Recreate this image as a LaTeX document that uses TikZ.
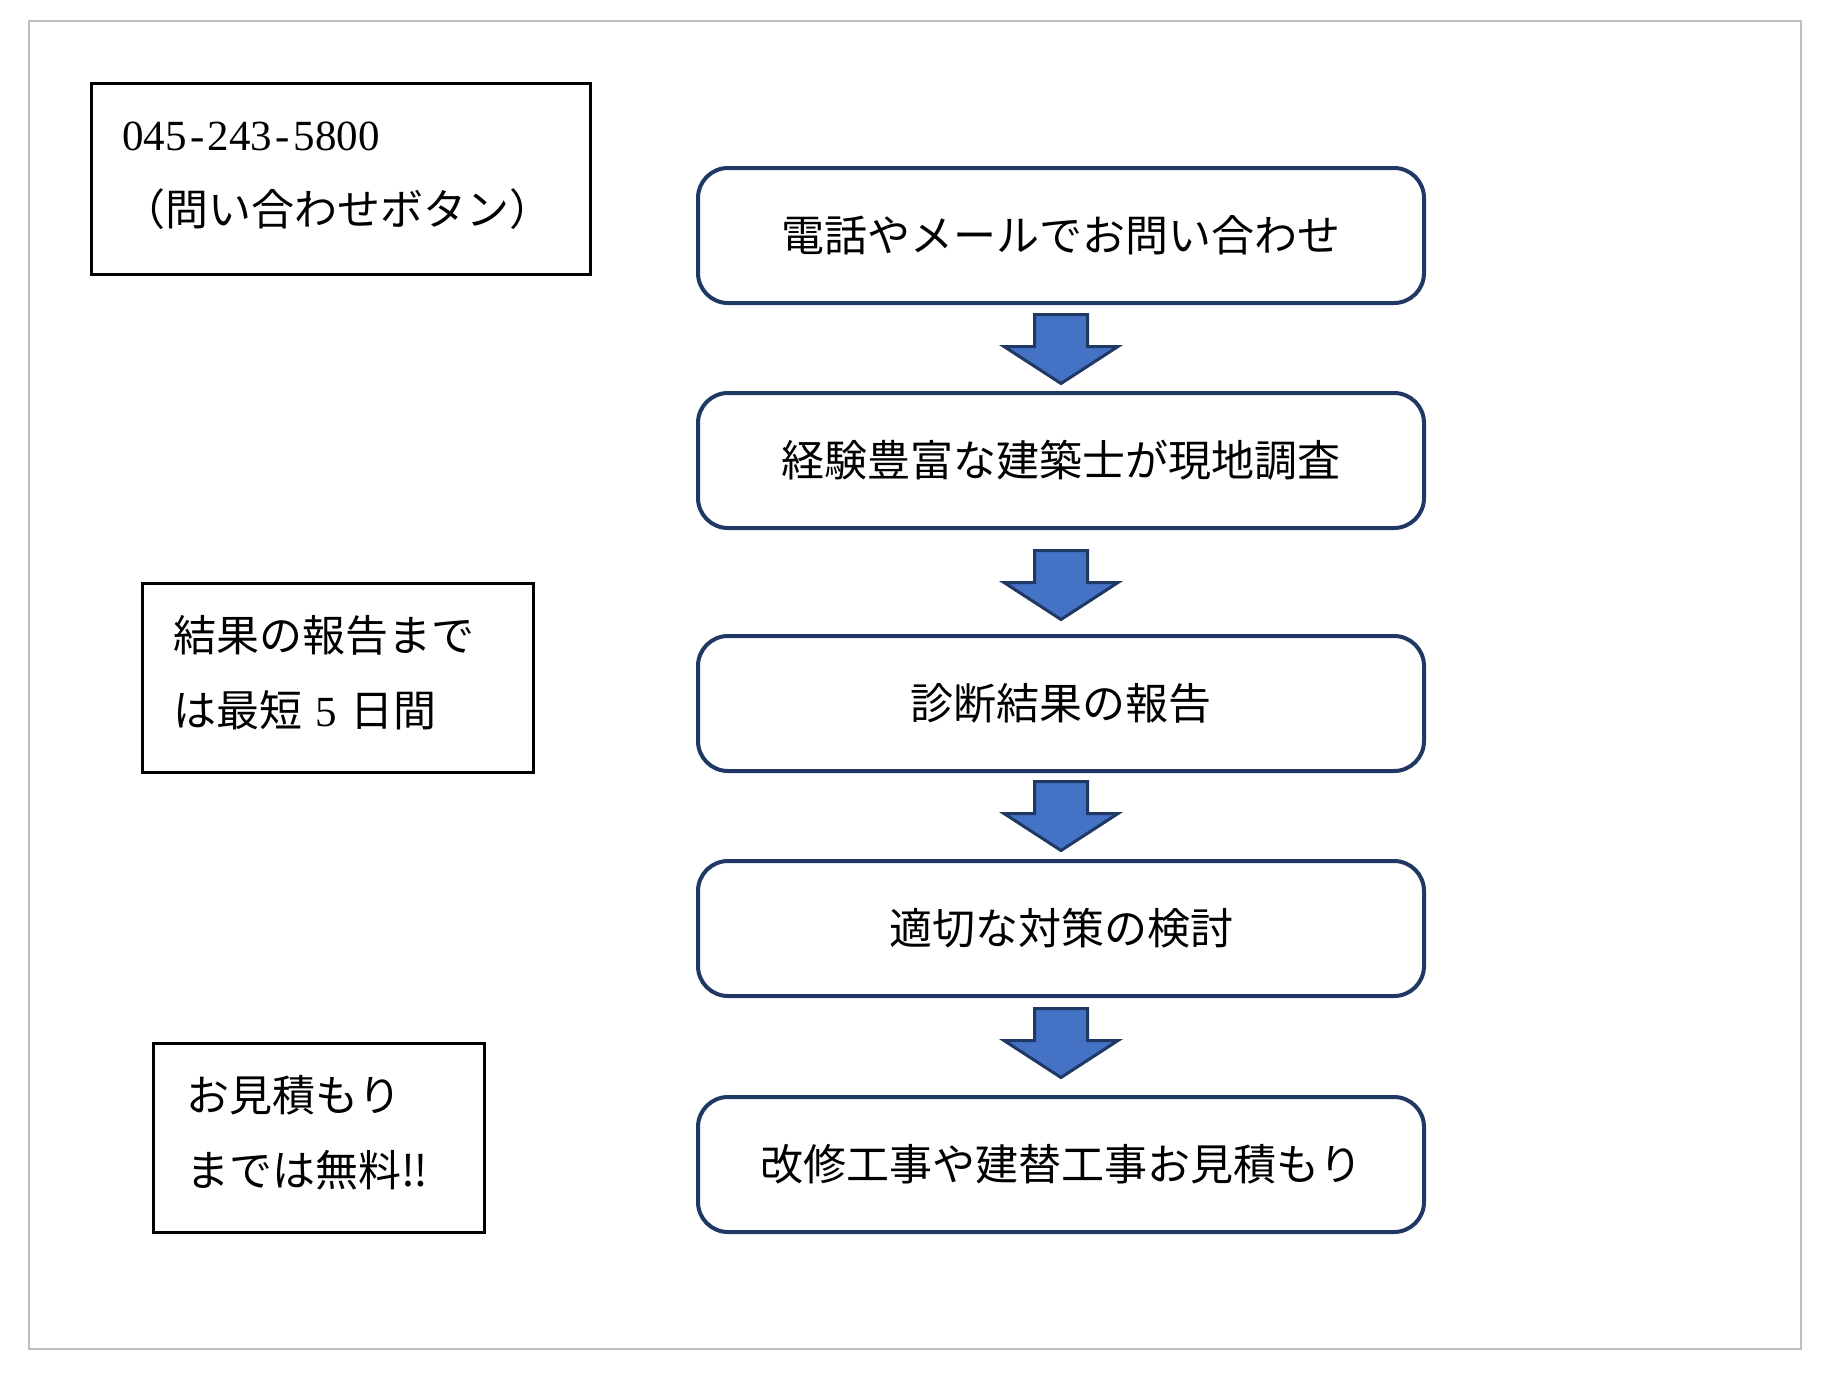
\documentclass[tikz,border=0pt]{standalone}
\usepackage{fontspec}
\setmainfont{Noto Sans CJK JP}
\newfontfamily\serifdig{Liberation Serif}
\usetikzlibrary{calc}
\definecolor{navy}{HTML}{203864}
\definecolor{arrowblue}{HTML}{4472C4}
\definecolor{framegray}{HTML}{BFBFBF}
\newcommand{\widehy}{\kern0.08em-\kern0.08em}
\begin{document}
\begin{tikzpicture}[x=1pt,y=-1pt,
  stepbox/.style={draw=navy,line width=4pt,rounded corners=30pt,minimum width=726pt,minimum height=135pt,inner sep=0pt,font=\fontsize{43}{52}\selectfont,anchor=north west},
  notebox/.style={draw=black,line width=2.5pt,anchor=north west,inner sep=0pt},
  notetext/.style={anchor=base west,inner sep=0pt,font=\fontsize{43}{52}\selectfont},
  downarrow/.style={fill=arrowblue,draw=navy,line width=3pt,line join=miter},
  downarr/.pic={\draw[downarrow] (-26.5,0) -- (26.5,0) -- (26.5,32) -- (57,32) -- (0,69) -- (-57,32) -- (-26.5,32) -- cycle;}]
\useasboundingbox (0,0) rectangle (1825,1387);
\fill[white] (0,0) rectangle (1825,1387);
\draw[framegray,line width=2pt] (29,21) rectangle (1801,1349);

% note boxes
\node[notebox,minimum width=499pt,minimum height=191pt] (na) at (90,82) {};
\node[notetext,font=\fontsize{43}{52}\selectfont\serifdig] (na1) at (122,150) {045\widehy 243\widehy 5800};
\node[notetext] (na2) at (122,225) {（問い合わせボタン）};

\node[notebox,minimum width=391pt,minimum height=189pt] (nb) at (141,582) {};
\node[notetext] (nb1) at (173,651) {結果の報告まで};
\node[notetext] (nb2) at (173,726) {は最短{\serifdig\hspace{0.32em}5\hspace{0.3em}}日間};

\node[notebox,minimum width=331pt,minimum height=189pt] (nc) at (152,1042) {};
\node[notetext] (nc1) at (186,1111) {お見積もり};
\node[notetext] (nc2) at (186,1186) {までは無料‼};

% flow boxes
\node[stepbox] (b1) at (696,166) {電話やメールでお問い合わせ};
\node[stepbox] (b2) at (696,391) {経験豊富な建築士が現地調査};
\node[stepbox] (b3) at (696,634) {診断結果の報告};
\node[stepbox] (b4) at (696,859) {適切な対策の検討};
\node[stepbox] (b5) at (696,1095) {改修工事や建替工事お見積もり};

% block arrows
\pic at ($(b1.south)+(0,9.5)$) {downarr};
\pic at ($(b2.south)+(0,20.5)$) {downarr};
\pic at ($(b3.south)+(0,8.5)$) {downarr};
\pic at ($(b4.south)+(0,10.5)$) {downarr};
\end{tikzpicture}
\end{document}
